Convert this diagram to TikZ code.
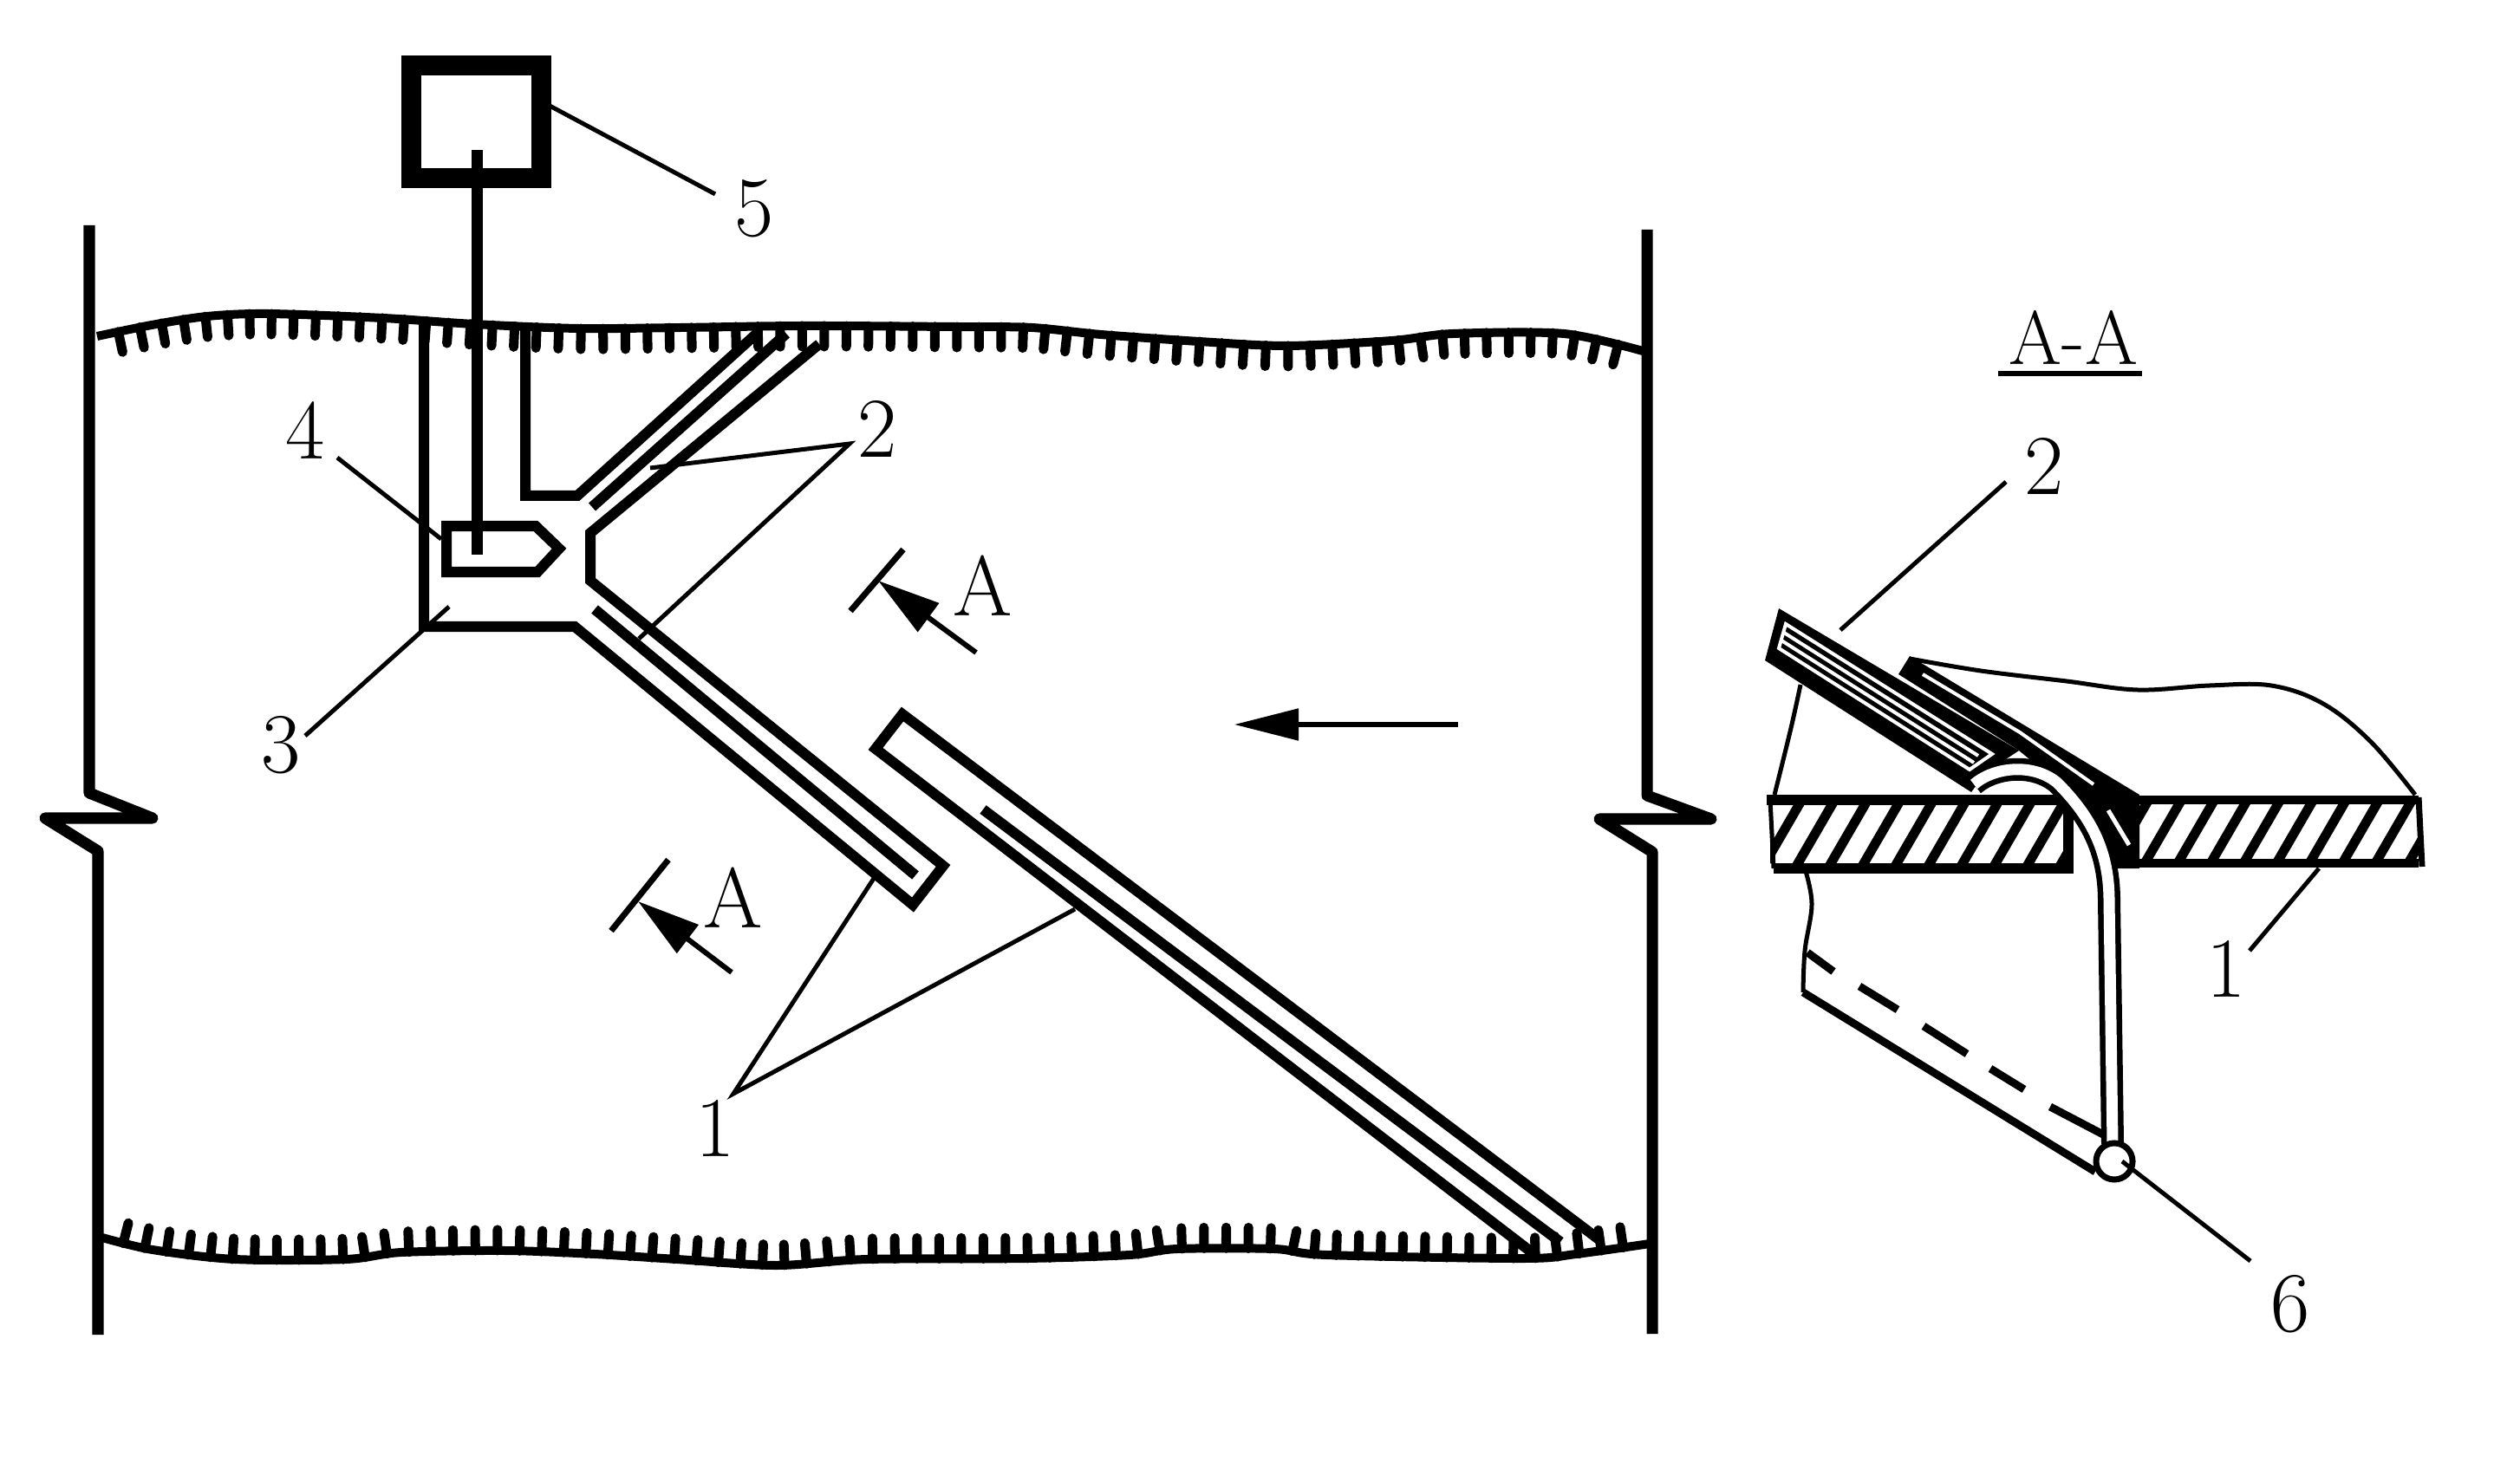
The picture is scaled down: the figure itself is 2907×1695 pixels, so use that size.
\documentclass[tikz,border=0pt]{standalone}
\usetikzlibrary{arrows.meta,decorations.markings}
\tikzset{
	wallline/.style={line width=0.13cm,line join=round},
	pipeline/.style={line width=0.12cm},
	leaderline/.style={line width=0.05cm},
	sketchline/.style={line width=0.05cm},
	partnum/.style={font=\fontsize{28}{30}\selectfont,inner sep=0pt},
	cutarrow/.style={line width=0.06cm,-{Triangle[length=0.72cm,width=0.4cm]}},
	surfline/.style={line width=0.1cm,line join=round},
	toothline/.style={line width=0.11cm,line cap=round},
	topteeth/.style={postaction={decorate,decoration={markings,
		mark=between positions 0.25cm and -0.15cm step 0.255cm with {\draw[toothline] (0,0) -- (0,-0.24cm);}}}},
	bottomteeth/.style={postaction={decorate,decoration={markings,
		mark=between positions 0.25cm and -0.15cm step 0.255cm with {\draw[toothline] (0,0) -- (0,0.24cm);}}}},
	hatchline/.style={line width=0.11cm},
}
\begin{document}
\begin{tikzpicture}[x=0.01cm,y=-0.01cm]
	\useasboundingbox (0,0) rectangle (2907,1695);
	% walls with the break marks
	\draw[wallline] (103,260) -- (103,915) -- (176,944) -- (52,944) -- (113,982) -- (113,1540);
	\draw[wallline] (1900,265) -- (1900,918) -- (1974,945) -- (1845,945) -- (1906,983) -- (1906,1539);
	% surfaces
	\draw[surfline,topteeth] plot[smooth,tension=0.5] coordinates {(112,388) (175,375) (239,365) (309,362) (442,367) (547,374) (667,379) (786,378) (926,376) (1100,377) (1190,378) (1270,386) (1383,394) (1485,399) (1606,393) (1676,385) (1804,385) (1895,405)};
	\draw[surfline,bottomteeth] plot[smooth,tension=0.5] coordinates {(118,1428) (176,1442) (271,1453) (399,1453) (463,1445) (584,1443) (686,1447) (781,1453) (896,1460) (1000,1453) (1182,1452) (1303,1448) (1358,1441) (1470,1441) (1530,1448) (1757,1452) (1818,1447) (1903,1435)};
	% header and branches
	\draw[pipeline] (489,373) -- (489,723) -- (663,723) -- (1053,1044) -- (1088,999) -- (681,670) -- (681,615) -- (945,397);
	\draw[pipeline] (606,375) -- (606,572) -- (666,572) -- (875,383);
	\draw[pipeline] (683,585) -- (907,385);
	\draw[pipeline] (686,703) -- (1056,1010);
	\draw[pipeline] (1847,1432) -- (1041,824) -- (1010,864) -- (1767,1445);
	\draw[pipeline] (1134,934) -- (1800,1433);
	% pump, rod and float
	\node[draw,line width=0.23cm,minimum width=1.49cm,minimum height=1.29cm,inner sep=0pt] (pumpbox) at (549.5,140.5) {};
	\draw[line width=0.13cm] (550,173) -- (550,640);
	\draw[line width=0.12cm] (515,607) -- (618,607) -- (645,633) -- (620,660) -- (515,660) -- cycle;
	% leaders of the plan
	\coordinate (fivea) at (634,122);
	\coordinate (fiveb) at (825,224);
	\draw[leaderline] (fivea) -- (fiveb);
	\coordinate (fourb) at (389,528);
	\coordinate (foura) at (509,622);
	\draw[leaderline] (fourb) -- (foura);
	\coordinate (threeb) at (352,849);
	\coordinate (threea) at (518,700);
	\draw[leaderline] (threeb) -- (threea);
	\coordinate (twoa) at (750,540);
	\coordinate (twob) at (980,512);
	\coordinate (twoc) at (737,737);
	\draw[leaderline] (twoa) -- (twob) -- (twoc);
	\coordinate (onea) at (1009,1012);
	\coordinate (oneb) at (846,1262);
	\coordinate (onec) at (1240,1049);
	\draw[leaderline] (onea) -- (oneb) -- (onec);
	\node[partnum] (labelfive) at (870,241) {5};
	\node[partnum] (labelfour) at (352,497) {4};
	\node[partnum] (labelthree) at (324,860) {3};
	\node[partnum] (labeltwo) at (1012,495) {2};
	\node[partnum] (labelone) at (825,1302) {1};
	% section marks
	\coordinate (cuta) at (1042,634);
	\coordinate (cutb) at (981,705);
	\coordinate (cutc) at (1126,753);
	\coordinate (cutd) at (1013,670);
	\draw[line width=0.07cm] (cuta) -- (cutb);
	\draw[cutarrow] (cutc) -- (cutd);
	\node[partnum] (labelcuta) at (1134,676) {A};
	\coordinate (cute) at (771,992);
	\coordinate (cutf) at (705,1074);
	\coordinate (cutg) at (844,1122);
	\coordinate (cuth) at (736,1040);
	\draw[line width=0.07cm] (cute) -- (cutf);
	\draw[cutarrow] (cutg) -- (cuth);
	\node[partnum] (labelcutb) at (846,1036) {A};
	% flow arrow
	\coordinate (flowa) at (1682,836);
	\coordinate (flowb) at (1424,836);
	\draw[line width=0.05cm,-{Triangle[length=0.74cm,width=0.36cm]}] (flowa) -- (flowb);
	% section A-A
	\node[partnum,font=\fontsize{25}{30}\selectfont] (labelsection) at (2392,389) {A-A};
	\draw[line width=0.055cm] (2305,431) -- (2471,431);
	\begin{scope}
		\clip (2042,920) rectangle (2385,998);
		\foreach \s in {1990,2028,...,2390} {
			\draw[hatchline] (\s,1010) -- (\s+58,910);
		}
	\end{scope}
	\begin{scope}
		\clip (2464,920) rectangle (2790,998);
		\foreach \s in {2428,2466,...,2790} {
			\draw[hatchline] (\s,1010) -- (\s+58,910);
		}
	\end{scope}
	\draw[line width=0.12cm] (2038,923) -- (2386,923) (2386,917) -- (2386,1002) -- (2046,1002);
	\draw[line width=0.05cm] (2042,923) -- (2046,1002);
	\draw[line width=0.1cm] (2464,923) -- (2790,923) (2790,996) -- (2464,996);
	\draw[line width=0.07cm] (2464,920) -- (2464,1000) (2790,920) -- (2794,1000);
	\draw[sketchline] plot[smooth,tension=0.6] coordinates {(2203,760) (2285,774) (2384,786) (2466,796) (2549,791) (2620,791) (2680,812) (2735,856) (2786,917)};
	\draw[sketchline] plot[smooth,tension=0.6] coordinates {(2077,790) (2066,840) (2047,917)};
	\draw[sketchline] plot[smooth,tension=0.6] coordinates {(2082,1002) (2090,1043) (2082,1097) (2080,1145)};
	% flap and wedge under it
	\fill (2203,757) -- (2468,917) -- (2468,1002) -- (2440,1002) -- (2400,925) -- (2329,866) -- (2190,778) -- cycle;
	\draw[white,line width=0.04cm] (2218,778) -- (2330,845) -- (2415,905);
	\draw[white,line width=0.05cm] (2432,935) -- (2456,975);
	% nozzle
	\fill (2052,702) -- (2329,866) -- (2290,892) -- (2274,914) -- (2036,762) -- cycle;
	\draw[white,line width=0.04cm] (2060,720) -- (2298,870) -- (2272,888) -- (2052,748) -- cycle;
	\draw[white,line width=0.04cm] (2058,730) -- (2282,872);
	\draw[white,line width=0.04cm] (2055,739) -- (2277,880);
	% tube and collector
	\coordinate (tubea) at (2277,905);
	\coordinate (tubeb) at (2437,1320);
	\draw[line width=0.065cm,double=white,double distance=0.13cm] (tubea) .. controls (2300,885) and (2345,880) .. (2373,903) .. controls (2415,945) and (2433,985) .. (2433,1040) -- (tubeb);
	\draw[line width=0.09cm] (2080,1145) -- (2417,1352);
	\foreach \a/\b/\c/\d in {2085/1099/2115/1121,2145/1138/2189/1165,2219/1184/2269/1216,2296/1233/2335/1257,2365/1277/2428/1310} {
		\draw[line width=0.09cm] (\a,\b) -- (\c,\d);
	}
	\node[circle,draw,fill=white,line width=0.07cm,minimum size=0.42cm,inner sep=0pt] (ballsix) at (2439,1340) {};
	% leaders of the section
	\coordinate (secb) at (2314,556);
	\coordinate (seca) at (2123,727);
	\draw[leaderline] (secb) -- (seca);
	\coordinate (seco) at (2675,1002);
	\coordinate (secp) at (2595,1097);
	\draw[leaderline] (seco) -- (secp);
	\coordinate (secs) at (2448,1340);
	\coordinate (sect) at (2596,1455);
	\draw[leaderline] (secs) -- (sect);
	\node[partnum] (labelsectwo) at (2358,538) {2};
	\node[partnum] (labelsecone) at (2568,1118) {1};
	\node[partnum] (labelsecsix) at (2642,1505) {6};
\end{tikzpicture}
\end{document}
